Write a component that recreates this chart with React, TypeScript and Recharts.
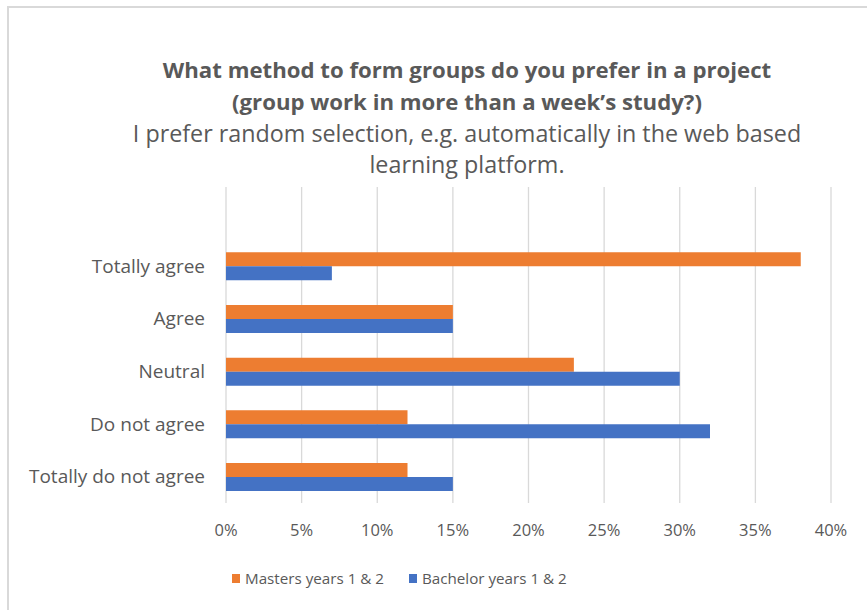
import React from "react";
import { BarChart, Bar, XAxis, YAxis, CartesianGrid } from "recharts";

const categories = ["", "Totally agree", "Agree", "Neutral", "Do not agree", "Totally do not agree"];
const masters = [null, 38, 15, 23, 12, 12];
const bachelor = [null, 7, 15, 30, 32, 15];
const xTicks = [0, 5, 10, 15, 20, 25, 30, 35, 40];
const titleLines = ["What method to form groups do you prefer in a project", "(group work in more than a week\u2019s study?)"];
const subtitleLines = ["I prefer random selection, e.g. automatically in the web based", "learning platform."];
const seriesNames = ["Masters years 1 & 2", "Bachelor years 1 & 2"];

const data = categories.map((c, i) => ({ name: c, masters: masters[i], bachelor: bachelor[i] }));

const FONT = "'Open Sans', sans-serif";
const TEXT = "#595959";
const ORANGE = "#ED7D31";
const BLUE = "#4472C4";

const LegendBox = () => {
  const items = [
    { name: seriesNames[0], color: ORANGE },
    { name: seriesNames[1], color: BLUE },
  ];
  return (
    <div style={{ position: "absolute", left: 232, top: 567, display: "flex", alignItems: "center", fontFamily: FONT, fontSize: 15.2, color: TEXT, lineHeight: "22px" }}>
      {items.map((it, i) => (
        <div key={i} style={{ display: "flex", alignItems: "center", marginRight: i === 0 ? 25 : 0 }}>
          <span style={{ display: "inline-block", width: 8, height: 9, background: it.color, marginRight: 5 }} />
          <span>{it.name}</span>
        </div>
      ))}
    </div>
  );
};

export default function App() {
  return (
    <div style={{ position: "fixed", left: 0, top: 0, width: 867, height: 610, overflow: "hidden", background: "#fff" }}>
      <div style={{ position: "absolute", left: 7, top: 6, width: 1000, height: 1000, border: "2px solid #d9d9d9", boxSizing: "border-box" }} />
      <svg style={{ position: "absolute", left: 0, top: 0 }} width={867} height={200}>
        <text x={467} y={78} textAnchor="middle" fontFamily={FONT} fontWeight={700} fontSize={22.2} fill={TEXT}>{titleLines[0]}</text>
        <text x={467} y={110} textAnchor="middle" fontFamily={FONT} fontWeight={700} fontSize={22.2} fill={TEXT}>{titleLines[1]}</text>
        <text x={467} y={142} textAnchor="middle" fontFamily={FONT} fontSize={23.3} fill={TEXT}>{subtitleLines[0]}</text>
        <text x={467} y={173} textAnchor="middle" fontFamily={FONT} fontSize={23.3} fill={TEXT}>{subtitleLines[1]}</text>
      </svg>
      <div style={{ position: "absolute", left: 0, top: 0 }}>
        <BarChart
          width={867}
          height={610}
          data={data}
          layout="vertical"
          margin={{ top: 187, right: 36, bottom: 77, left: 0 }}
          barCategoryGap="24%"
          barGap={0}
        >
          <CartesianGrid horizontal={false} stroke="#d9d9d9" strokeWidth={1.3} />
          <XAxis
            type="number"
            domain={[0, 40]}
            ticks={xTicks}
            tickFormatter={(v: number) => `${v}%`}
            axisLine={false}
            tickLine={false}
            tickSize={0}
            tickMargin={21}
            height={30}
            interval={0}
            tick={{ fill: TEXT, fontFamily: FONT, fontSize: 16.5 }}
          />
          <YAxis
            type="category"
            dataKey="name"
            width={226}
            axisLine={false}
            tickLine={false}
            tickSize={0}
            tickMargin={21}
            interval={0}
            tick={{ fill: TEXT, fontFamily: FONT, fontSize: 19 }}
          />
          <Bar dataKey="masters" name={seriesNames[0]} fill={ORANGE} isAnimationActive={false} />
          <Bar dataKey="bachelor" name={seriesNames[1]} fill={BLUE} isAnimationActive={false} />
        </BarChart>
      </div>
      <LegendBox />
    </div>
  );
}
